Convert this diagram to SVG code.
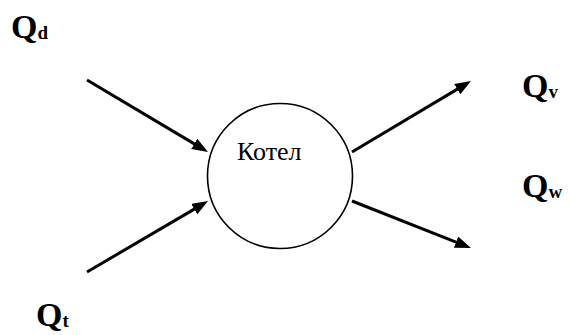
<svg xmlns="http://www.w3.org/2000/svg" width="570" height="335" viewBox="0 0 570 335">
<style>
.lbl{font-family:'Liberation Serif',serif;font-weight:bold;font-size:34px;fill:#000}
.sub{font-size:19px}
.conn{stroke:#000;stroke-width:3;fill:none;marker-end:url(#ah)}
.node{fill:#fff;stroke:#000;stroke-width:1.6}
.nt{font-family:'Liberation Serif',serif;font-size:26px;fill:#000}
</style>
<defs>
<marker id="ah" viewBox="0 0 16 12" markerWidth="16" markerHeight="12" markerUnits="userSpaceOnUse" refX="4" refY="6" orient="auto">
<path d="M0,0 L16,6 L0,12 z" fill="#000"/>
</marker>
</defs>
<rect width="570" height="335" fill="#fff"/>
<g id="connectors">
<line class="conn" x1="87" y1="80" x2="197.7" y2="145.9"/>
<line class="conn" x1="87" y1="272" x2="197.7" y2="207.1"/>
<line class="conn" x1="352" y1="152" x2="460.7" y2="87.1"/>
<line class="conn" x1="352" y1="201" x2="459.8" y2="243.6"/>
</g>
<g id="kotel">
<circle class="node" cx="280" cy="176" r="72.5"/>
<text class="nt" x="237" y="160">Котел</text>
</g>
<g id="Qd"><text class="lbl" x="11" y="38">Q<tspan class="sub" dy="1">d</tspan></text></g>
<g id="Qt"><text class="lbl" x="36" y="326">Q<tspan class="sub" dy="1">t</tspan></text></g>
<g id="Qv"><text class="lbl" x="522" y="97">Q<tspan class="sub" dy="1">v</tspan></text></g>
<g id="Qw"><text class="lbl" x="522" y="197">Q<tspan class="sub" dy="1">w</tspan></text></g>
</svg>
